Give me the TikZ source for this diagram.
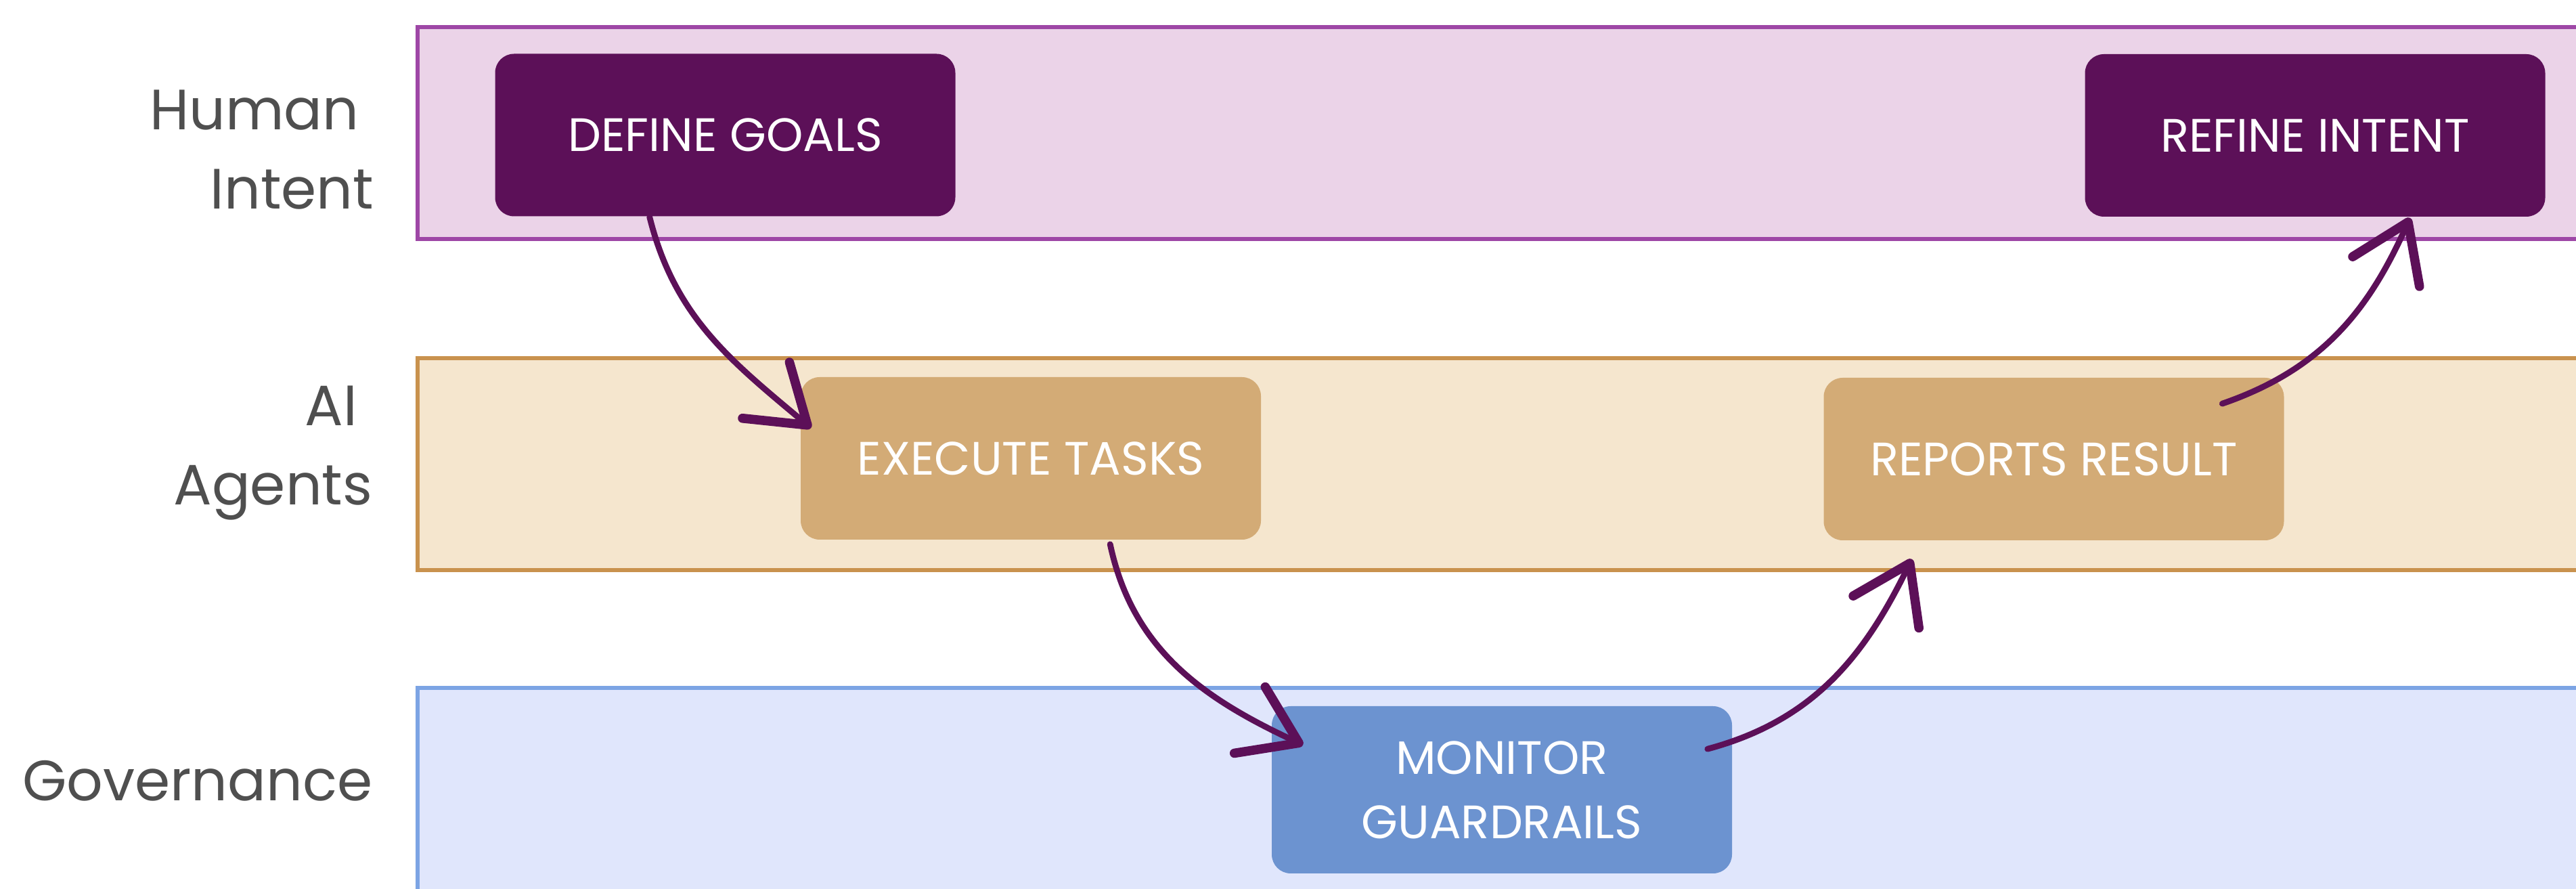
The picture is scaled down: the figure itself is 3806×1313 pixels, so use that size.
\documentclass[tikz,border=0pt]{standalone}
\usepackage{fontspec}
\setmainfont{Poppins}
\usetikzlibrary{arrows.meta,calc}
\definecolor{laneAfill}{HTML}{EBD3E8}
\definecolor{laneAline}{HTML}{9E47A6}
\definecolor{laneBfill}{HTML}{F5E6CE}
\definecolor{laneBline}{HTML}{C9924E}
\definecolor{laneCfill}{HTML}{E0E6FC}
\definecolor{laneCline}{HTML}{7CA4E4}
\definecolor{boxA}{HTML}{5C1058}
\definecolor{boxB}{HTML}{D3AB76}
\definecolor{boxC}{HTML}{6C93D0}
\definecolor{arrcol}{HTML}{5C1058}
\definecolor{labgray}{HTML}{4F4F4F}
\tikzset{
  lane/.style={line width=1.5pt},
  lanelabel/.style={anchor=base east, inner sep=0pt, align=right, text=labgray,
    font=\fontsize{21pt}{29.25pt}\selectfont},
  stepbox/.style={rounded corners=7pt, minimum width=170pt, minimum height=60pt,
    inner sep=0pt, align=center, text=white,
    font=\fontsize{17.3pt}{23.75pt}\selectfont},
  flow/.style={draw=arrcol, line width=2.2pt, line cap=round,
    -{Straight Barb[length=20pt, width=27pt, line width=3.4pt, round]}},
}
\begin{document}
\begin{tikzpicture}[x=0.25pt, y=-0.25pt]
\useasboundingbox (0,0) rectangle (3806,1313);
\clip (0,0) rectangle (3806,1313);
\fill[white] (0,0) rectangle (3806,1313);
% lanes
\draw[lane, draw=laneAline, fill=laneAfill] (617,40) rectangle (3900,353);
\draw[lane, draw=laneBline, fill=laneBfill] (617,529) rectangle (3900,842);
\draw[lane, draw=laneCline, fill=laneCfill] (617,1016) rectangle (3900,1450);
% lane labels
\node[lanelabel] (lh) at (553,309) {Human\hspace*{5.5pt}\\Intent};
\node[lanelabel] (la) at (551,746) {AI\hspace*{5.5pt}\\Agents};
\node[lanelabel] (lg) at (551,1183) {Governance};
% steps
\node[stepbox, fill=boxA] (dg) at (1071.5,199.5) {DEFINE GOALS};
\node[stepbox, fill=boxA] (ri) at (3420.5,200) {REFINE INTENT};
\node[stepbox, fill=boxB] (et) at (1523,677) {EXECUTE TASKS};
\node[stepbox, fill=boxB] (rr) at (3034.5,678) {REPORTS RESULT};
\node[stepbox, fill=boxC, minimum height=61.75pt] (mg) at (2219,1166.5) {MONITOR\\GUARDRAILS};
% flows
\draw[flow] ($(dg.south west)+(229,0)$) to[out=-76, in=140] ($(et.north west)+(16,76)$);
\draw[flow] ($(et.south west)+(458,6)$) to[out=-78, in=155] ($(mg.north west)+(47,58)$);
\draw[flow] ($(mg.north east)+(-37,64)$) to[out=15, in=-116] ($(rr.south west)+(131,27)$);
\draw[flow] ($(rr.north east)+(-92,39)$) to[out=19, in=-114] ($(ri.south west)+(481,1)$);
\end{tikzpicture}
\end{document}
